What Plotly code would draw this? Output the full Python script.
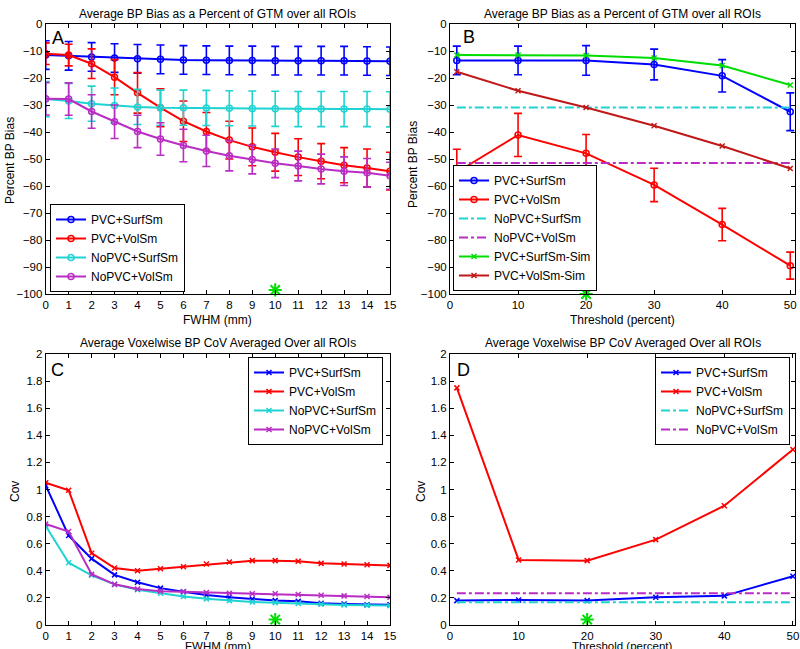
import plotly.graph_objects as go

# ---------------- data ----------------
fwhm = list(range(16))
thr = [1, 10, 20, 30, 40, 50]

# Panel A: bias (%) vs FWHM
a_pvc_surf = [-11.5, -11.8, -12.2, -12.6, -12.9, -13.1, -13.3, -13.4, -13.5, -13.5, -13.6, -13.6, -13.6, -13.6, -13.7, -13.8]
a_pvc_surf_err = [5.3] * 16
a_pvc_vol = [-11.0, -11.5, -14.7, -19.7, -25.5, -31.0, -36.0, -39.8, -43.0, -45.5, -47.5, -49.3, -50.8, -52.3, -53.3, -54.5]
a_pvc_vol_err = [4.0, 4.0, 5.5, 6.5, 7.5, 7.0, 7.5, 7.0, 7.0, 7.0, 7.0, 6.8, 6.5, 6.5, 7.0, 7.0]
a_nopvc_surf = [-27.8, -28.5, -29.5, -30.2, -30.7, -31.0, -31.0, -31.1, -31.2, -31.3, -31.4, -31.5, -31.5, -31.5, -31.5, -31.6]
a_nopvc_surf_err = [6.5] * 16
a_nopvc_vol = [-27.7, -27.8, -32.4, -36.2, -39.8, -42.6, -45.0, -47.0, -48.8, -50.2, -51.6, -52.6, -53.7, -54.5, -55.1, -56.2]
a_nopvc_vol_err = [6.0, 6.0, 6.2, 6.2, 6.0, 6.0, 6.0, 5.8, 5.6, 5.3, 5.3, 5.5, 5.5, 5.3, 5.3, 5.0]

# Panel B: bias (%) vs threshold
b_pvc_surf = [-13.5, -13.5, -13.5, -15.0, -19.2, -32.5]
b_pvc_surf_err = [5.3, 5.3, 5.5, 5.7, 6.0, 7.0]
b_pvc_vol = [-54.9, -41.1, -47.9, -59.6, -74.3, -89.5]
b_pvc_vol_err = [8.5, 8.0, 7.0, 6.2, 6.0, 5.0]
b_nopvc_surf = [-30.9] * 6
b_nopvc_vol = [-51.5] * 6
b_pvc_surf_sim = [-11.5, -11.5, -11.7, -12.6, -15.4, -22.6]
b_pvc_vol_sim = [-17.7, -24.7, -30.9, -37.7, -45.2, -53.5]

# Panel C: CoV vs FWHM
c_pvc_surf = [1.03, 0.66, 0.49, 0.37, 0.315, 0.272, 0.245, 0.222, 0.205, 0.192, 0.18, 0.175, 0.16, 0.155, 0.15, 0.15]
c_pvc_vol = [1.05, 0.995, 0.53, 0.42, 0.40, 0.415, 0.43, 0.45, 0.465, 0.475, 0.475, 0.47, 0.455, 0.45, 0.445, 0.44]
c_nopvc_surf = [0.73, 0.46, 0.367, 0.30, 0.26, 0.235, 0.21, 0.193, 0.18, 0.17, 0.165, 0.158, 0.153, 0.148, 0.145, 0.143]
c_nopvc_vol = [0.745, 0.69, 0.375, 0.30, 0.265, 0.25, 0.245, 0.24, 0.235, 0.23, 0.23, 0.225, 0.22, 0.215, 0.21, 0.205]

# Panel D: CoV vs threshold
d_pvc_surf = [0.18, 0.185, 0.18, 0.205, 0.215, 0.36]
d_pvc_vol = [1.75, 0.48, 0.475, 0.63, 0.88, 1.295]
d_nopvc_surf = [0.167] * 6
d_nopvc_vol = [0.234] * 6

# chosen parameter markers
star_a = (10, -98.5)
star_b = (20, -100)
star_c = (10, 0.04)
star_d = (20, 0.04)

ticks_a = list(range(-100, 1, 10))
ticks_cov = [0, 0.2, 0.4, 0.6, 0.8, 1, 1.2, 1.4, 1.6, 1.8, 2]
ticks_thr = [0, 10, 20, 30, 40, 50]

# ---------------- styling ----------------
BLUE = "#0000ff"
RED = "#ff0000"
CYAN = "#1fd3d3"
MAG = "#b92dc4"
GREEN = "#00dd00"
DRED = "#c01818"
FONT = "Liberation Sans, Arial, sans-serif"

W, H = 800, 649


def px_x(p):
    return p / W


def px_y(p):
    return 1 - p / H


fig = go.Figure()


def err(vals, color):
    return dict(type="data", array=vals, visible=True, color=color, thickness=1.6, width=4)


def line_trace(x, y, name, color, xa, ya, leg, symbol="circle-open", dash="solid", e=None, msize=6, mode="lines+markers"):
    fig.add_trace(go.Scatter(
        x=x, y=y, name=name, mode=mode,
        line=dict(color=color, width=2, dash=dash),
        marker=dict(symbol=symbol, size=msize, color=color, line=dict(color=color, width=1.5)),
        error_y=err(e, color) if e is not None else None,
        xaxis=xa, yaxis=ya, legend=leg,
    ))


# Panel A
line_trace(fwhm, a_pvc_surf, "PVC+SurfSm", BLUE, "x", "y", "legend", e=a_pvc_surf_err)
line_trace(fwhm, a_pvc_vol, "PVC+VolSm", RED, "x", "y", "legend", e=a_pvc_vol_err)
line_trace(fwhm, a_nopvc_surf, "NoPVC+SurfSm", CYAN, "x", "y", "legend", e=a_nopvc_surf_err)
line_trace(fwhm, a_nopvc_vol, "NoPVC+VolSm", MAG, "x", "y", "legend", e=a_nopvc_vol_err)

# Panel B
line_trace(thr, b_pvc_surf, "PVC+SurfSm", BLUE, "x2", "y2", "legend2", e=b_pvc_surf_err)
line_trace(thr, b_pvc_vol, "PVC+VolSm", RED, "x2", "y2", "legend2", e=b_pvc_vol_err)
line_trace(thr, b_nopvc_surf, "NoPVC+SurfSm", CYAN, "x2", "y2", "legend2", dash="dashdot", mode="lines")
line_trace(thr, b_nopvc_vol, "NoPVC+VolSm", MAG, "x2", "y2", "legend2", dash="dashdot", mode="lines")
line_trace(thr, b_pvc_surf_sim, "PVC+SurfSm-Sim", GREEN, "x2", "y2", "legend2", symbol="x-thin-open", msize=5)
line_trace(thr, b_pvc_vol_sim, "PVC+VolSm-Sim", DRED, "x2", "y2", "legend2", symbol="x-thin-open", msize=5)

# Panel C
line_trace(fwhm, c_pvc_surf, "PVC+SurfSm", BLUE, "x3", "y3", "legend3", symbol="x-thin-open", msize=5)
line_trace(fwhm, c_pvc_vol, "PVC+VolSm", RED, "x3", "y3", "legend3", symbol="x-thin-open", msize=5)
line_trace(fwhm, c_nopvc_surf, "NoPVC+SurfSm", CYAN, "x3", "y3", "legend3", symbol="x-thin-open", msize=5)
line_trace(fwhm, c_nopvc_vol, "NoPVC+VolSm", MAG, "x3", "y3", "legend3", symbol="x-thin-open", msize=5)

# Panel D
line_trace(thr, d_pvc_surf, "PVC+SurfSm", BLUE, "x4", "y4", "legend4", symbol="x-thin-open", msize=5)
line_trace(thr, d_pvc_vol, "PVC+VolSm", RED, "x4", "y4", "legend4", symbol="x-thin-open", msize=5)
line_trace(thr, d_nopvc_surf, "NoPVC+SurfSm", CYAN, "x4", "y4", "legend4", dash="dashdot", mode="lines")
line_trace(thr, d_nopvc_vol, "NoPVC+VolSm", MAG, "x4", "y4", "legend4", dash="dashdot", mode="lines")

# stars
for (sx, sy), xa, ya in [(star_a, "x", "y"), (star_b, "x2", "y2"), (star_c, "x3", "y3"), (star_d, "x4", "y4")]:
    fig.add_trace(go.Scatter(
        x=[sx], y=[sy], mode="markers", showlegend=False, cliponaxis=False,
        marker=dict(symbol="asterisk-open", size=11, color=GREEN, line=dict(color=GREEN, width=2)),
        xaxis=xa, yaxis=ya,
    ))

# ---------------- layout ----------------
dom_left = [px_x(45.7), px_x(390)]
dom_right = [px_x(450), px_x(795)]
dom_top = [px_y(294), px_y(24)]
dom_bot = [px_y(625), px_y(354)]

axis_common = dict(
    showline=True, linecolor="black", linewidth=1, mirror="allticks",
    ticks="inside", ticklen=4, tickcolor="black", showgrid=False, zeroline=False,
    automargin=False,
    tickfont=dict(family=FONT, size=11.5, color="black"),
)

fig.update_layout(
    template="none",
    width=W, height=H, margin=dict(l=0, r=0, t=0, b=0, autoexpand=False),
    paper_bgcolor="white", plot_bgcolor="white",
    font=dict(family=FONT, size=12, color="black"),
    xaxis=dict(domain=dom_left, anchor="y", range=[0, 15], tickvals=fwhm, **axis_common),
    yaxis=dict(domain=dom_top, anchor="x", range=[-100, 0], tickvals=ticks_a, **axis_common),
    xaxis2=dict(domain=dom_right, anchor="y2", range=[0, 50.7], tickvals=ticks_thr, **axis_common),
    yaxis2=dict(domain=dom_top, anchor="x2", range=[-100, 0], tickvals=ticks_a, **axis_common),
    xaxis3=dict(domain=dom_left, anchor="y3", range=[0, 15], tickvals=fwhm, **axis_common),
    yaxis3=dict(domain=dom_bot, anchor="x3", range=[0, 2], tickvals=ticks_cov, **axis_common),
    xaxis4=dict(domain=dom_right, anchor="y4", range=[0, 50.3], tickvals=ticks_thr, **axis_common),
    yaxis4=dict(domain=dom_bot, anchor="x4", range=[0, 2], tickvals=ticks_cov, **axis_common),
)

leg_common = dict(bgcolor="white", bordercolor="black", borderwidth=1,
                  font=dict(family=FONT, size=12, color="black"),
                  tracegroupgap=0, itemwidth=30)
fig.update_layout(
    legend=dict(x=px_x(50), y=px_y(292), xanchor="left", yanchor="bottom", **leg_common),
    legend2=dict(x=px_x(453), y=px_y(291), xanchor="left", yanchor="bottom", **leg_common),
    legend3=dict(x=px_x(383), y=px_y(357), xanchor="right", yanchor="top", **leg_common),
    legend4=dict(x=px_x(790), y=px_y(357), xanchor="right", yanchor="top", **leg_common),
)


def label(text, cx, cy, size=12, angle=0):
    fig.add_annotation(text=text, x=px_x(cx), y=px_y(cy), xref="paper", yref="paper",
                       showarrow=False, xanchor="center", yanchor="middle", textangle=angle,
                       font=dict(family=FONT, size=size, color="black"))


# panel titles
label("Average BP Bias as a Percent of GTM over all ROIs", (45.7 + 390) / 2, 14)
label("Average BP Bias as a Percent of GTM over all ROIs", (450 + 795) / 2, 14)
label("Average Voxelwise BP CoV Averaged Over all ROIs", (45.7 + 390) / 2, 343)
label("Average Voxelwise BP CoV Averaged Over all ROIs", (450 + 795) / 2, 343)

# axis titles
label("FWHM (mm)", (45.7 + 390) / 2, 320)
label("Threshold (percent)", (450 + 795) / 2, 320)
label("FWHM (mm)", (45.7 + 390) / 2, 645.5, size=11.5)
label("Threshold (percent)", (450 + 795) / 2, 645.5, size=11.5)
label("Percent BP Bias", 10, 161, angle=-90)
label("Percent BP Bias", 413, 165, angle=-90)
label("Cov", 15, 492, angle=-90)
label("Cov", 421, 492, angle=-90)

# panel letters
for t, lx, ly in [("A", 58, 38), ("B", 469, 37), ("C", 58, 370), ("D", 463, 370)]:
    label(t, lx, ly, size=18)

# the page body gets no default margin so the figure sits at the window's top-left corner
fig.write_html("out.html", config={"displayModeBar": False},
               post_script="document.body.style.margin='0';")
